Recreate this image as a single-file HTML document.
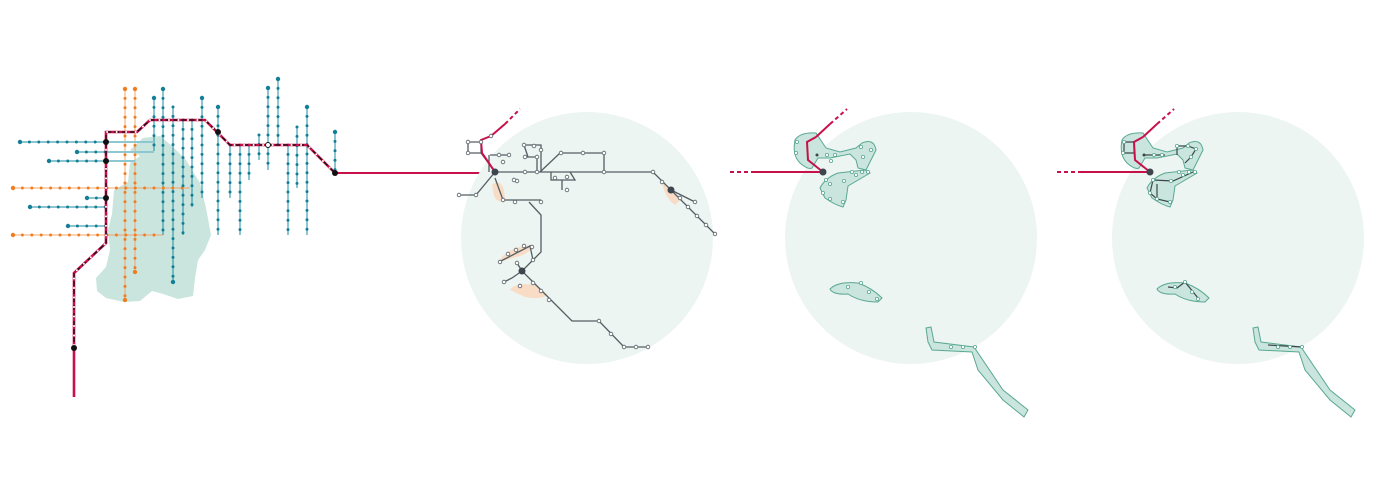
<!DOCTYPE html>
<html><head><meta charset="utf-8"><style>html,body{margin:0;padding:0;background:#fff}svg{display:block}</style></head>
<body>
<svg width="1374" height="480" viewBox="0 0 1374 480" xmlns="http://www.w3.org/2000/svg">
<!-- Panel 1 -->
<path d="M143,138 L160,136 L172,146 L186,160 L200,183 L206,208 L211,235 L205,250 L198,260 L195,278 L193,296 L178,299 L163,294 L152,291 L140,301 L124,302 L106,298 L97,291 L96,278 L106,267 L110,250 L108,230 L112,214 L114,190 L128,182 L130,163 L140,156 L130,150 Z" fill="#c9e5dd"/>
<g fill="none" stroke-width="1">
 <g stroke="#f4a46a">
  <path d="M125,89V300M135,89V272M13,188H190M13,235H163"/>
 </g>
 <g stroke="#1a8aa0">
  <path d="M154,98V151M163,89V235M173,107V282M183,120V235M192,120V207M202,98V198M218,107V235M230,145V198M240,145V235M249,145V180M259,135V160M268,88V170M278,79V145M288,145V235M297,127V188M307,107V235M335,132V173"/>
  <path d="M20,142H106M77,152H106M49,161H106M87,198H106M30,207H106M68,226H106"/>
 </g>
 <g stroke="#8cc7d2" stroke-width="2">
  <path d="M106,142H154M106,152H154M106,161H135M278,79V145M259,135V160"/>
 </g>
</g>
<g fill="none" stroke-linecap="round" stroke-width="3">
 <g stroke="#f07e20" stroke-dasharray="0 9.4">
  <path d="M125,89V300M135,89V272M13,188H190M13,235H163"/>
 </g>
 <g stroke="#127f96" stroke-dasharray="0 9.4">
  <path d="M154,98V151M163,89V235M173,107V282M183,120V235M192,120V207M202,98V198M218,107V235M230,145V198M240,145V235M249,145V180M259,135V160M268,88V170M278,79V145M288,145V235M297,127V188M307,107V235M335,132V173"/>
  <path d="M20,142H106M77,152H106M49,161H106M87,198H106M30,207H106M68,226H106"/>
 </g>
</g>
<g fill="#127f96"><circle cx="154" cy="98" r="2.2"/><circle cx="163" cy="89" r="2.2"/><circle cx="173" cy="282" r="2.2"/><circle cx="202" cy="98" r="2.2"/><circle cx="218" cy="107" r="2.2"/><circle cx="268" cy="88" r="2.2"/><circle cx="278" cy="79" r="2.2"/><circle cx="307" cy="107" r="2.2"/><circle cx="335" cy="132" r="2.2"/><circle cx="20" cy="142" r="2.2"/><circle cx="30" cy="207" r="2.2"/><circle cx="49" cy="161" r="2.2"/><circle cx="68" cy="226" r="2.2"/><circle cx="77" cy="152" r="2.2"/><circle cx="87" cy="198" r="2.2"/></g>
<g fill="#f07e20"><circle cx="125" cy="89" r="2.2"/><circle cx="135" cy="89" r="2.2"/><circle cx="125" cy="300" r="2.2"/><circle cx="135" cy="272" r="2.2"/><circle cx="13" cy="188" r="2.2"/><circle cx="13" cy="235" r="2.2"/></g>
<path d="M74,397V273L106,243V132H137L150,120H205L230,145H307L335,173" fill="none" stroke="#c8104a" stroke-width="2.6"/>
<path d="M74,350V273L106,243V132H137L150,120H205L230,145H307L335,173" fill="none" stroke="#111" stroke-width="1.2" stroke-dasharray="5 3"/>
<path d="M74,345V273L106,243V132H137L150,120H205L230,145H307L335,173" fill="none" stroke="#fff" stroke-width="2" stroke-linecap="round" stroke-dasharray="0 9.5"/>
<path d="M335,173H495" stroke="#c8104a" stroke-width="2"/>
<g fill="#111"><circle cx="106" cy="142" r="3"/><circle cx="106" cy="161" r="3"/><circle cx="106" cy="198" r="3"/><circle cx="218" cy="132" r="3"/><circle cx="335" cy="173" r="3"/><circle cx="74" cy="348" r="3"/></g>
<circle cx="268" cy="145" r="2.5" fill="#fff" stroke="#111" stroke-width="1"/>

<!-- Panel 2 -->
<circle cx="587" cy="238" r="126" fill="#edf5f2"/>
<g fill="#f9dcc5"><path d="M492,185 Q500,178 504,190 L505,200 Q498,204 494,196 Z"/><path d="M499,262 Q505,248 530,245 Q535,250 520,256 Z"/><path d="M510,290 Q515,282 535,285 L548,295 Q540,300 525,297 Z"/><path d="M662,182 Q670,186 680,200 L675,205 Q665,198 662,182 Z"/></g>
<g fill="none" stroke="#555d63" stroke-width="1.3">
<path d="M468,142H481V153H468Z M481,153L495,172 M490,155H509M489,155V172M495,172H653L715,234M671,190L695,202M524,145H541V172M526,157H537V172M524,145L528,157M540,172L560,153H604V172M551,172V180H575L570,172M562,180V190"/>
<path d="M495,172L476,195H459M495,178L503,200H541M529,202L541,215V252L533,260L522,271L548,297L572,321H599L624,347H648M522,271L512,278L504,282M522,271L517,263M499,262L530,246L533,260"/>
</g>
<path d="M495,172L482,153L481,140L491,136" fill="none" stroke="#c8104a" stroke-width="2"/>
<path d="M491,136L505,124" stroke="#c8104a" stroke-width="2"/>
<path d="M505,124L520,109" stroke="#c8104a" stroke-width="2" stroke-dasharray="4 3"/>
<g fill="#fff" stroke="#555d63" stroke-width="0.8">
<circle cx="468" cy="142" r="1.8"/><circle cx="481" cy="142" r="1.8"/><circle cx="468" cy="153" r="1.8"/><circle cx="491" cy="136" r="1.8"/><circle cx="499" cy="155" r="1.8"/><circle cx="509" cy="155" r="1.8"/><circle cx="503" cy="162" r="1.8"/><circle cx="524" cy="145" r="1.8"/><circle cx="534" cy="146" r="1.8"/><circle cx="541" cy="150" r="1.8"/><circle cx="525" cy="157" r="1.8"/><circle cx="537" cy="157" r="1.8"/><circle cx="525" cy="172" r="1.8"/><circle cx="537" cy="172" r="1.8"/><circle cx="561" cy="153" r="1.8"/><circle cx="583" cy="153" r="1.8"/><circle cx="604" cy="153" r="1.8"/><circle cx="604" cy="172" r="1.8"/><circle cx="653" cy="172" r="1.8"/><circle cx="662" cy="182" r="1.8"/><circle cx="680" cy="198" r="1.8"/><circle cx="695" cy="202" r="1.8"/><circle cx="688" cy="207" r="1.8"/><circle cx="697" cy="216" r="1.8"/><circle cx="706" cy="225" r="1.8"/><circle cx="715" cy="234" r="1.8"/><circle cx="459" cy="195" r="1.8"/><circle cx="476" cy="195" r="1.8"/><circle cx="503" cy="200" r="1.8"/><circle cx="515" cy="202" r="1.8"/><circle cx="541" cy="202" r="1.8"/><circle cx="517" cy="181" r="1.8"/><circle cx="555" cy="178" r="1.8"/><circle cx="567" cy="177" r="1.8"/><circle cx="567" cy="190" r="1.8"/><circle cx="533" cy="260" r="1.8"/><circle cx="532" cy="247" r="1.8"/><circle cx="524" cy="246" r="1.8"/><circle cx="516" cy="250" r="1.8"/><circle cx="508" cy="254" r="1.8"/><circle cx="500" cy="262" r="1.8"/><circle cx="504" cy="282" r="1.8"/><circle cx="517" cy="263" r="1.8"/><circle cx="520" cy="286" r="1.8"/><circle cx="533" cy="283" r="1.8"/><circle cx="541" cy="291" r="1.8"/><circle cx="549" cy="300" r="1.8"/><circle cx="599" cy="321" r="1.8"/><circle cx="611" cy="334" r="1.8"/><circle cx="624" cy="347" r="1.8"/><circle cx="636" cy="347" r="1.8"/><circle cx="648" cy="347" r="1.8"/><circle cx="514" cy="180" r="1.8"/></g>
<g fill="#3d464d"><circle cx="495" cy="172" r="3.5"/><circle cx="671" cy="190" r="3.5"/><circle cx="522" cy="271" r="3.5"/></g>

<!-- Panel 3 -->
<circle cx="911" cy="238" r="126" fill="#edf5f2"/>
<g fill="#c9e5dd" stroke="#5aa892" stroke-width="1">
<path d="M795,140 Q792,155 800,163 Q808,170 812,168 L818,158 L830,158 L850,154 L856,160 L858,168 L866,170 L876,150 Q874,138 862,143 L856,148 L840,152 L826,148 L816,133 Q800,132 795,140 Z"/>
<path d="M820,188 Q825,178 838,173 L865,170 L870,173 L848,186 L846,200 L843,207 Q835,205 825,198 Z"/>
<path d="M830,289 Q838,281 858,283 Q872,288 882,298 L878,302 Q860,302 848,294 Q833,295 830,289 Z"/>
<path d="M926,328 L931,327 L934,342 L974,347 L1003,390 L1028,410 L1024,417 L1003,400 L978,370 L972,352 L932,350 L928,342 Z"/>
</g>
<g fill="#fff" stroke="#5aa892" stroke-width="0.8"><circle cx="797" cy="142" r="1.6"/><circle cx="796" cy="153" r="1.6"/><circle cx="827" cy="155" r="1.6"/><circle cx="835" cy="155" r="1.6"/><circle cx="831" cy="161" r="1.6"/><circle cx="861" cy="147" r="1.6"/><circle cx="871" cy="150" r="1.6"/><circle cx="863" cy="157" r="1.6"/><circle cx="852" cy="172" r="1.6"/><circle cx="862" cy="172" r="1.6"/><circle cx="868" cy="172" r="1.6"/><circle cx="856" cy="175" r="1.6"/><circle cx="844" cy="181" r="1.6"/><circle cx="826" cy="180" r="1.6"/><circle cx="830" cy="184" r="1.6"/><circle cx="823" cy="193" r="1.6"/><circle cx="830" cy="199" r="1.6"/><circle cx="843" cy="202" r="1.6"/><circle cx="848" cy="287" r="1.6"/><circle cx="861" cy="283" r="1.6"/><circle cx="869" cy="292" r="1.6"/><circle cx="877" cy="299" r="1.6"/><circle cx="951" cy="347" r="1.6"/><circle cx="963" cy="347" r="1.6"/><circle cx="975" cy="347" r="1.6"/></g>
<path d="M823,172L808,160L807,142L816,137" fill="none" stroke="#c8104a" stroke-width="2"/>
<path d="M816,137L830,124" stroke="#c8104a" stroke-width="2"/>
<path d="M830,124L847,109" stroke="#c8104a" stroke-width="2" stroke-dasharray="4 3"/>
<path d="M730,172H755" stroke="#c8104a" stroke-width="2" stroke-dasharray="4 3"/>
<path d="M755,172H823" stroke="#c8104a" stroke-width="2"/>
<circle cx="823" cy="172" r="3.5" fill="#3d464d"/><circle cx="817" cy="155" r="1.5" fill="#3d464d"/>

<!-- Panel 4 -->
<circle cx="1238" cy="238" r="126" fill="#edf5f2"/>
<g transform="translate(327,0)">
<g fill="#c9e5dd" stroke="#5aa892" stroke-width="1">
<path d="M795,140 Q792,155 800,163 Q808,170 812,168 L818,158 L830,158 L850,154 L856,160 L858,168 L866,170 L876,150 Q874,138 862,143 L856,148 L840,152 L826,148 L816,133 Q800,132 795,140 Z"/>
<path d="M820,188 Q825,178 838,173 L865,170 L870,173 L848,186 L846,200 L843,207 Q835,205 825,198 Z"/>
<path d="M830,289 Q838,281 858,283 Q872,288 882,298 L878,302 Q860,302 848,294 Q833,295 830,289 Z"/>
<path d="M926,328 L931,327 L934,342 L974,347 L1003,390 L1028,410 L1024,417 L1003,400 L978,370 L972,352 L932,350 L928,342 Z"/>
</g>
<g fill="none" stroke="#3d464d" stroke-width="1.2"><path d="M797,142H807V153H797Z M817,155L838,155 M850,146L861,146L869,149L864,157L858,163 M850,146V155 M826,180L846,181L866,172 M826,180L823,193L830,199L843,202 M830,184V199 M841,287L850,288L858,282L871,298 M941,345L975,347"/></g>
<g fill="#fff" stroke="#5aa892" stroke-width="0.8"><circle cx="797" cy="142" r="1.6"/><circle cx="796" cy="153" r="1.6"/><circle cx="827" cy="155" r="1.6"/><circle cx="835" cy="155" r="1.6"/><circle cx="850" cy="146" r="1.6"/><circle cx="861" cy="146" r="1.6"/><circle cx="869" cy="149" r="1.6"/><circle cx="864" cy="157" r="1.6"/><circle cx="852" cy="172" r="1.6"/><circle cx="862" cy="172" r="1.6"/><circle cx="868" cy="172" r="1.6"/><circle cx="856" cy="175" r="1.6"/><circle cx="844" cy="181" r="1.6"/><circle cx="826" cy="180" r="1.6"/><circle cx="823" cy="193" r="1.6"/><circle cx="830" cy="199" r="1.6"/><circle cx="843" cy="202" r="1.6"/><circle cx="848" cy="287" r="1.6"/><circle cx="858" cy="282" r="1.6"/><circle cx="865" cy="292" r="1.6"/><circle cx="871" cy="299" r="1.6"/><circle cx="951" cy="347" r="1.6"/><circle cx="963" cy="347" r="1.6"/><circle cx="975" cy="347" r="1.6"/></g>
<path d="M823,172L808,160L807,142L816,137" fill="none" stroke="#c8104a" stroke-width="2"/>
<path d="M816,137L830,124" stroke="#c8104a" stroke-width="2"/>
<path d="M830,124L847,109" stroke="#c8104a" stroke-width="2" stroke-dasharray="4 3"/>
<path d="M730,172H755" stroke="#c8104a" stroke-width="2" stroke-dasharray="4 3"/>
<path d="M755,172H823" stroke="#c8104a" stroke-width="2"/>
<circle cx="823" cy="172" r="3.5" fill="#3d464d"/><circle cx="817" cy="155" r="1.5" fill="#3d464d"/>
</g>
</svg>
</body></html>
